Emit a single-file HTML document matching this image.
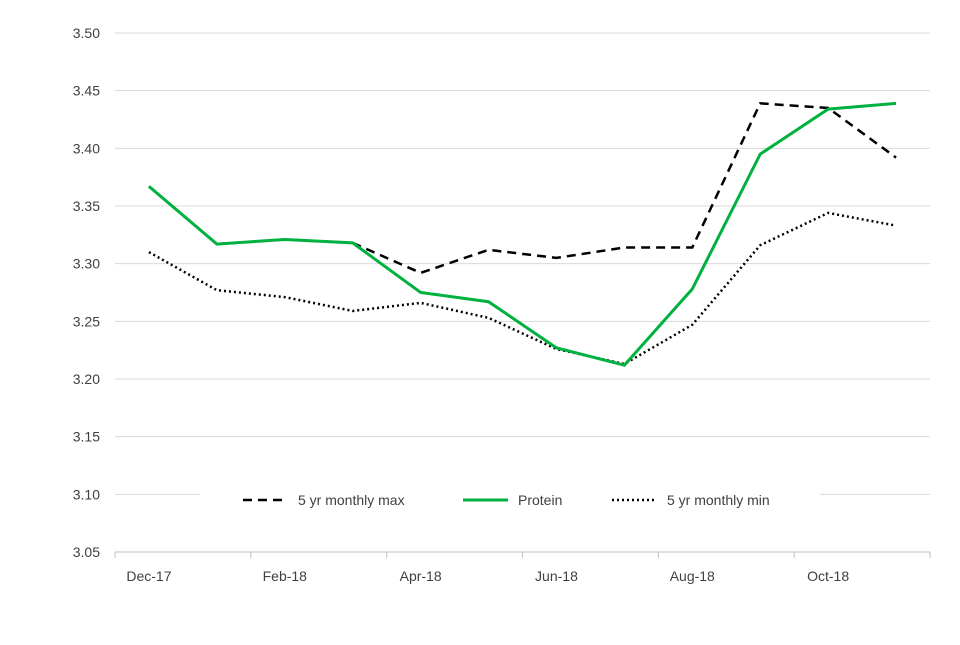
<!DOCTYPE html>
<html><head><meta charset="utf-8"><style>
body{margin:0;background:#fff;font-family:"Liberation Sans",sans-serif}
svg text{font-family:"Liberation Sans",sans-serif;font-size:14px;fill:#404040}
</style></head><body>
<svg id="chart" width="960" height="640"></svg>
<script>
const categories=["Dec-17","Jan-18","Feb-18","Mar-18","Apr-18","May-18","Jun-18","Jul-18","Aug-18","Sep-18","Oct-18","Nov-18"];
const maxValues=[3.367,3.317,3.321,3.318,3.292,3.312,3.305,3.314,3.314,3.439,3.435,3.392];
const proteinValues=[3.367,3.317,3.321,3.318,3.275,3.267,3.227,3.212,3.278,3.395,3.434,3.439];
const minValues=[3.310,3.277,3.271,3.259,3.266,3.253,3.226,3.213,3.247,3.316,3.344,3.333];
const yTicks=[3.05,3.10,3.15,3.20,3.25,3.30,3.35,3.40,3.45,3.50];
const NS="http://www.w3.org/2000/svg";
const svg=document.getElementById("chart");
const X0=115,X1=930,Y0=552,Y1=33,YMIN=3.05,YMAX=3.50;
const bw=(X1-X0)/categories.length;
const x=i=>X0+bw*(i+0.5);
const y=v=>Y0-(v-YMIN)/(YMAX-YMIN)*(Y0-Y1);
function mk(t,a){const e=document.createElementNS(NS,t);for(const k in a)e.setAttribute(k,a[k]);svg.appendChild(e);return e;}
yTicks.forEach(v=>{
 const g=mk("line",{x1:X0,x2:X1,y1:y(v),y2:y(v),stroke:v===YMIN?"#bfbfbf":"#d9d9d9","stroke-width":1});
 
 
 const t=mk("text",{x:100,y:y(v)+5,"text-anchor":"end"});t.textContent=v.toFixed(2);
 
 
});
for(let i=0;i<=categories.length;i+=2){
 const tk=mk("line",{x1:X0+bw*i,x2:X0+bw*i,y1:Y0,y2:Y0+6,stroke:"#bfbfbf"});
 
 
}
categories.forEach((c,i)=>{if(i%2)return;
 const t=mk("text",{x:x(i),y:581,"text-anchor":"middle"});t.textContent=c;
 
 
});
function line(vals,color,dash,name,w){
 const p=mk("polyline",{points:vals.map((v,i)=>x(i)+","+y(v)).join(" "),fill:"none",stroke:color,"stroke-width":w,"stroke-dasharray":dash});
 
 
}
line(maxValues,"#000","9,6","max-line",2.5);
line(minValues,"#000","2,3","min-line",2.5);
line(proteinValues,"#00b140","none","protein-line",3);
const bg=mk("rect",{x:200,y:484,width:620,height:32,fill:"#fff"});


const leg=[["5 yr monthly max","#000","9,6",243],["Protein","#00b140","none",463],["5 yr monthly min","#000","2,3",612]];
leg.forEach(l=>{
 const s=mk("line",{x1:l[3],x2:l[3]+45,y1:500,y2:500,stroke:l[1],"stroke-width":l[1]==="#000"?2.5:3,"stroke-dasharray":l[2]});
 
 
 const t=mk("text",{x:l[3]+55,y:505});t.textContent=l[0];
 
 
});
</script>
</body></html>
